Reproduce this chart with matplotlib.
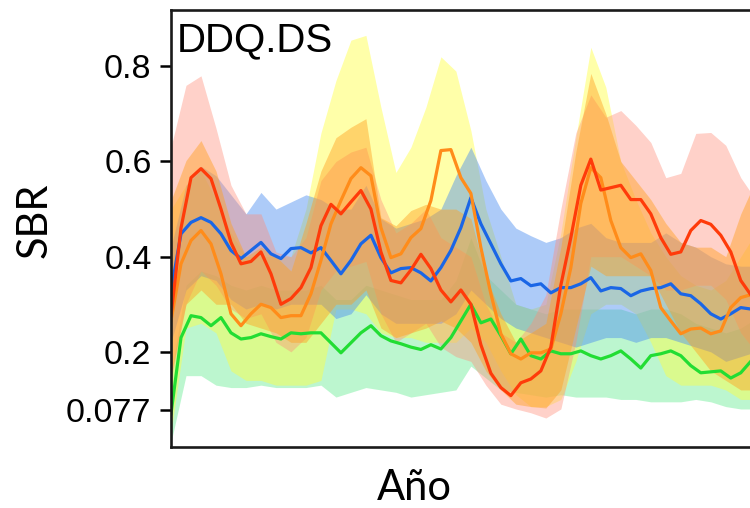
import matplotlib
matplotlib.use("Agg")
import matplotlib.pyplot as plt
import numpy as np

# eje temporal (sin etiquetas en el original)
t = np.arange(59)              # lineas
t_banda = np.arange(40) * 1.5  # bandas

sbr_rojo = [0.276, 0.46, 0.566, 0.585, 0.564, 0.50, 0.43, 0.385, 0.39, 0.41,
            0.364, 0.30, 0.312, 0.335, 0.377, 0.465, 0.51, 0.49, 0.515, 0.539,
            0.50, 0.41, 0.35, 0.345, 0.372, 0.405, 0.375, 0.33, 0.305, 0.33,
            0.30, 0.215, 0.155, 0.125, 0.108, 0.135, 0.143, 0.16, 0.21, 0.34,
            0.44, 0.55, 0.605, 0.54, 0.545, 0.55, 0.52, 0.52, 0.49, 0.44,
            0.405, 0.41, 0.455, 0.476, 0.468, 0.445, 0.41, 0.35, 0.32]
sbr_azul = [0.328, 0.448, 0.472, 0.482, 0.472, 0.448, 0.413, 0.396, 0.413, 0.43,
            0.406, 0.396, 0.417, 0.419, 0.408, 0.419, 0.392, 0.364, 0.392, 0.427,
            0.445, 0.398, 0.366, 0.375, 0.377, 0.366, 0.349, 0.377, 0.413, 0.461,
            0.524, 0.469, 0.427, 0.385, 0.349, 0.354, 0.339, 0.343, 0.324, 0.335,
            0.335, 0.343, 0.356, 0.328, 0.335, 0.333, 0.318, 0.328, 0.333, 0.335,
            0.343, 0.322, 0.318, 0.301, 0.28, 0.269, 0.28, 0.293, 0.29]
sbr_naranja = [0.265, 0.385, 0.434, 0.455, 0.427, 0.364, 0.28, 0.255, 0.28, 0.30,
               0.293, 0.272, 0.276, 0.276, 0.322, 0.392, 0.469, 0.518, 0.564, 0.587,
               0.57, 0.461, 0.398, 0.406, 0.44, 0.459, 0.518, 0.623, 0.625, 0.566,
               0.533, 0.419, 0.322, 0.238, 0.196, 0.185, 0.198, 0.198, 0.206, 0.28,
               0.377, 0.512, 0.587, 0.566, 0.476, 0.419, 0.398, 0.406, 0.371, 0.293,
               0.265, 0.238, 0.248, 0.25, 0.238, 0.244, 0.293, 0.314, 0.32]
sbr_verde = [0.07, 0.23, 0.276, 0.272, 0.255, 0.272, 0.24, 0.227, 0.23, 0.238,
             0.232, 0.227, 0.24, 0.238, 0.24, 0.24, 0.219, 0.198, 0.219, 0.24,
             0.255, 0.234, 0.223, 0.217, 0.21, 0.205, 0.215, 0.206, 0.23, 0.265,
             0.30, 0.261, 0.269, 0.234, 0.196, 0.227, 0.192, 0.185, 0.202, 0.196,
             0.196, 0.202, 0.192, 0.185, 0.192, 0.202, 0.185, 0.166, 0.192, 0.196,
             0.202, 0.192, 0.171, 0.156, 0.158, 0.16, 0.145, 0.156, 0.18]

# bandas (superior / inferior)
rosa_sup = [0.63, 0.76, 0.78, 0.67, 0.55, 0.49, 0.49, 0.41, 0.40, 0.44,
            0.56, 0.60, 0.62, 0.63, 0.52, 0.45, 0.47, 0.50, 0.44, 0.42,
            0.40, 0.30, 0.24, 0.22, 0.26, 0.32, 0.50, 0.66, 0.74, 0.693,
            0.707, 0.676, 0.64, 0.566, 0.575, 0.659, 0.661, 0.634, 0.566, 0.52]
rosa_inf = [0.14, 0.30, 0.37, 0.34, 0.29, 0.27, 0.28, 0.22, 0.20, 0.23,
            0.33, 0.37, 0.38, 0.39, 0.28, 0.22, 0.24, 0.26, 0.21, 0.19,
            0.18, 0.13, 0.09, 0.08, 0.072, 0.061, 0.08, 0.22, 0.40, 0.40,
            0.40, 0.38, 0.36, 0.33, 0.33, 0.34, 0.34, 0.31, 0.24, 0.20]
nar_sup = [0.518, 0.602, 0.644, 0.58, 0.47, 0.40, 0.42, 0.40, 0.37, 0.47,
           0.58, 0.65, 0.672, 0.69, 0.482, 0.465, 0.497, 0.51, 0.50, 0.50,
           0.48, 0.36, 0.28, 0.22, 0.24, 0.26, 0.42, 0.62, 0.785, 0.70,
           0.60, 0.56, 0.52, 0.47, 0.43, 0.42, 0.42, 0.40, 0.49, 0.56]
nar_inf = [0.15, 0.30, 0.33, 0.30, 0.30, 0.26, 0.25, 0.24, 0.22, 0.22,
           0.26, 0.30, 0.30, 0.33, 0.25, 0.23, 0.24, 0.25, 0.265, 0.25,
           0.22, 0.16, 0.12, 0.09, 0.085, 0.082, 0.12, 0.25, 0.38, 0.36,
           0.36, 0.36, 0.36, 0.30, 0.24, 0.20, 0.16, 0.14, 0.12, 0.12]
ama_sup = [0.50, 0.55, 0.58, 0.52, 0.45, 0.40, 0.40, 0.40, 0.40, 0.50,
           0.66, 0.77, 0.855, 0.865, 0.714, 0.577, 0.63, 0.714, 0.82, 0.79,
           0.665, 0.50, 0.40, 0.30, 0.29, 0.30, 0.45, 0.65, 0.84, 0.756,
           0.60, 0.52, 0.45, 0.40, 0.36, 0.34, 0.33, 0.35, 0.40, 0.45]
ama_inf = [0.03, 0.25, 0.26, 0.24, 0.16, 0.14, 0.14, 0.13, 0.13, 0.13,
           0.14, 0.29, 0.29, 0.28, 0.24, 0.23, 0.23, 0.22, 0.22, 0.22,
           0.25, 0.22, 0.16, 0.11, 0.085, 0.085, 0.10, 0.18, 0.28, 0.30,
           0.30, 0.28, 0.22, 0.15, 0.13, 0.13, 0.13, 0.12, 0.10, 0.10]
azul_sup = [0.42, 0.55, 0.59, 0.57, 0.53, 0.49, 0.535, 0.50, 0.515, 0.53,
            0.52, 0.50, 0.50, 0.55, 0.48, 0.46, 0.47, 0.48, 0.50, 0.57,
            0.63, 0.56, 0.50, 0.46, 0.444, 0.43, 0.44, 0.46, 0.47, 0.44,
            0.43, 0.43, 0.43, 0.45, 0.43, 0.42, 0.40, 0.385, 0.38, 0.38]
azul_inf = [0.22, 0.33, 0.36, 0.35, 0.31, 0.29, 0.30, 0.29, 0.30, 0.30,
            0.30, 0.27, 0.28, 0.32, 0.28, 0.26, 0.26, 0.26, 0.26, 0.28,
            0.33, 0.30, 0.27, 0.25, 0.24, 0.23, 0.22, 0.21, 0.22, 0.23,
            0.23, 0.22, 0.23, 0.23, 0.22, 0.21, 0.20, 0.18, 0.19, 0.20]
verde_sup = [0.15, 0.34, 0.37, 0.36, 0.34, 0.33, 0.34, 0.33, 0.33, 0.33,
             0.34, 0.31, 0.31, 0.34, 0.33, 0.32, 0.31, 0.31, 0.31, 0.35,
             0.44, 0.36, 0.33, 0.30, 0.29, 0.28, 0.29, 0.29, 0.29, 0.29,
             0.29, 0.28, 0.29, 0.29, 0.28, 0.26, 0.25, 0.24, 0.25, 0.27]
verde_inf = [0.01, 0.15, 0.15, 0.13, 0.125, 0.125, 0.13, 0.125, 0.125, 0.125,
             0.13, 0.105, 0.115, 0.125, 0.12, 0.115, 0.105, 0.11, 0.115, 0.12,
             0.17, 0.145, 0.12, 0.115, 0.11, 0.105, 0.11, 0.105, 0.105, 0.105,
             0.10, 0.10, 0.095, 0.095, 0.095, 0.10, 0.095, 0.085, 0.08, 0.08]

yticks = [0.077, 0.2, 0.4, 0.6, 0.8]
ytick_labels = ["0.077", "0.2", "0.4", "0.6", "0.8"]

fig = plt.figure(figsize=(7.5, 5.08), dpi=100)
# el panel sigue más allá del borde derecho, como en la imagen recortada
ax = fig.add_axes([0.228, 0.120, 0.785, 0.860])

ax.fill_between(t_banda, verde_inf, verde_sup, color="#40E878", alpha=0.35, lw=0)
ax.fill_between(t_banda, ama_inf, ama_sup, color="#FFFF40", alpha=0.45, lw=0)
ax.fill_between(t_banda, azul_inf, azul_sup, color="#4A8CF0", alpha=0.45, lw=0)
ax.fill_between(t_banda, rosa_inf, rosa_sup, color="#FF8C78", alpha=0.4, lw=0)
ax.fill_between(t_banda, nar_inf, nar_sup, color="#FFA020", alpha=0.45, lw=0)

ax.plot(t, sbr_verde, color="#22DD33", lw=2.3)
ax.plot(t, sbr_azul, color="#1A66E6", lw=2.3)
ax.plot(t, sbr_naranja, color="#FF8C1A", lw=2.3)
ax.plot(t, sbr_rojo, color="#FF3B0A", lw=2.3)

ax.set_xlim(0, 58.9)
ax.set_ylim(0, 0.918)
ax.set_xticks([])
ax.set_yticks(yticks)
ax.set_yticklabels(ytick_labels, fontfamily="Liberation Sans", fontsize=24.5)
ax.tick_params(axis="y", direction="out", length=8, width=1.8, pad=6)

for s in ax.spines.values():
    s.set_linewidth(1.9)
    s.set_color("#1a1a1a")

ax.text(0.01, 0.975, "DDQ.DS", transform=ax.transAxes, ha="left", va="top",
        fontfamily="Liberation Sans", fontsize=29)

ax.set_ylabel("SBR", fontfamily="Lato", fontsize=30)
ax.yaxis.set_label_coords(-0.200, 0.52)
ax.set_xlabel("Año", fontfamily="Lato", fontsize=30)
ax.xaxis.set_label_coords(0.414, -0.05)

fig.savefig("out.png", dpi=100)
